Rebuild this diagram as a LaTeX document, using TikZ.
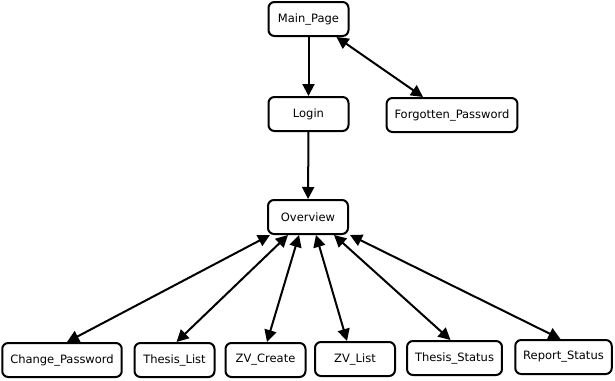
\documentclass[tikz,border=0pt]{standalone}
\usepackage{fontspec}
\setmainfont{DejaVu Sans}
\usetikzlibrary{arrows.meta, positioning}

\begin{document}
\begin{tikzpicture}[x=1pt, y=-1pt, >={Triangle[length=12pt, width=12pt]},
    page/.style={draw, line width=2pt, rounded corners=6pt,
        minimum width=80pt, minimum height=34pt, inner xsep=8pt,
        font=\fontsize{11.5}{13}\selectfont},
    link/.style={line width=2pt}]

    \useasboundingbox (0,0) rectangle (615,380);

    % ============================================================
    % ENTRY PAGES
    % ============================================================
    \node[page] (main) at (308.5,19) {Main\_Page};
    \node[page] (login) at (308.5,114) {Login};
    \node[page] (forgot) at (452,115) {Forgotten\_Password};

    % ============================================================
    % OVERVIEW AND SUB PAGES
    % ============================================================
    \node[page] (overview) at (308,217) {Overview};

    \node[page] (chpw) at (62,360) {Change\_Password};
    \node[page] (tlist) at (174.5,360) {Thesis\_List};
    \node[page] (zvcreate) at (265.5,360) {ZV\_Create};
    \node[page] (zvlist) at (355,359) {ZV\_List};
    \node[page] (tstatus) at (454.5,358) {Thesis\_Status};
    \node[page] (rstatus) at (563.5,357) {Report\_Status};

    % ============================================================
    % NAVIGATION
    % ============================================================
    \draw[link, ->] (main) -- (login);
    \draw[link, <->] ([xshift=28pt]main.south) -- ([xshift=-29pt]forgot.north);
    \draw[link, ->] (login) -- (overview);

    \draw[link, <->] ([xshift=-38pt]overview.south) -- ([xshift=5pt]chpw.north);
    \draw[link, <->] ([xshift=-20pt]overview.south) -- ([xshift=2pt]tlist.north);
    \draw[link, <->] ([xshift=-9pt]overview.south) -- ([xshift=1.5pt]zvcreate.north);
    \draw[link, <->] ([xshift=8pt]overview.south) -- ([xshift=-8pt]zvlist.north);
    \draw[link, <->] ([xshift=26pt]overview.south) -- ([xshift=-4pt]tstatus.north);
    \draw[link, <->] ([xshift=42pt]overview.south) -- ([xshift=-3pt]rstatus.north);

\end{tikzpicture}
\end{document}
